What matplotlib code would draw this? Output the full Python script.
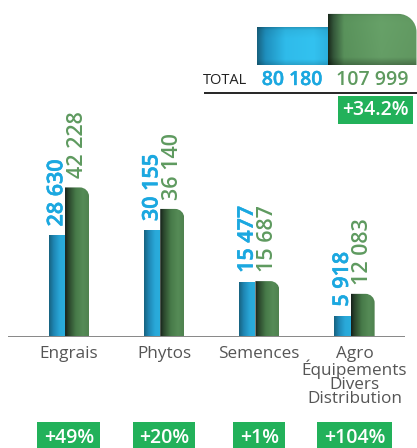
import numpy as np
import matplotlib
matplotlib.use('Agg')
import matplotlib.pyplot as plt
from matplotlib.path import Path
from matplotlib.patches import PathPatch
from matplotlib.colors import to_rgb
from matplotlib.lines import Line2D
import matplotlib.patheffects as pe

# ---------------- data ----------------
categories = ['Engrais', 'Phytos', 'Semences', 'Agro\nÉquipements\nDivers\nDistribution']
values_prev = [28630, 30155, 15477, 5918]
values_curr = [42228, 36140, 15687, 12083]
labels_prev = ['28 630', '30 155', '15 477', '5 918']
labels_curr = ['42 228', '36 140', '15 687', '12 083']
growth = ['+49%', '+20%', '+1%', '+104%']
total_values = [80180, 107999]
total_labels = ['80 180', '107 999']
total_growth = '+34.2%'
total_title = 'TOTAL'

# ---------------- style ----------------
W, H, DPI = 417, 448, 100
PT = 72.0 / DPI  # points per pixel
FONT = 'Open Sans'
BLUE_T = '#1ba8e0'
GREEN_T = '#5e9a5f'
BOX_G = '#22b15a'
GRAY_T = '#555555'

fig = plt.figure(figsize=(W / DPI, H / DPI), dpi=DPI)


def px_axes(left, top, right, bottom):
    return fig.add_axes([left / W, 1 - bottom / H, (right - left) / W, (bottom - top) / H])


def heavy(color, lw=0.7):
    if lw <= 0:
        return []
    return [pe.withStroke(linewidth=lw, foreground=color)]


def grad_img(stops, vert=None, n=200):
    xs = np.linspace(0, 1, n)
    pos = [p for p, _ in stops]
    cols = np.array([to_rgb(c) for _, c in stops])
    row = np.stack([np.interp(xs, pos, cols[:, k]) for k in range(3)], axis=-1)
    if vert is None:
        img = row[None, :, :]
    else:
        vp, vf = vert
        ys = np.linspace(0, 1, n)
        fac = np.interp(ys, vp, vf)
        img = row[None, :, :] * fac[:, None, None]
    return np.clip(img, 0, 1)


def shade_bar(ax, patch, img, r_px, ax_px_w, ax_px_h):
    x0, w, h = patch.get_x(), patch.get_width(), patch.get_height()
    x1 = x0 + w
    xl, yl = ax.get_xlim(), ax.get_ylim()
    rx = r_px * (xl[1] - xl[0]) / ax_px_w
    ry = r_px * (yl[1] - yl[0]) / ax_px_h
    k = 0.5523
    if r_px > 0:
        verts = [(x0, 0), (x0, h), (x1 - rx, h),
                 (x1 - rx + k * rx, h), (x1, h - ry + k * ry), (x1, h - ry),
                 (x1, 0), (x0, 0)]
        codes = [Path.MOVETO, Path.LINETO, Path.LINETO,
                 Path.CURVE4, Path.CURVE4, Path.CURVE4,
                 Path.LINETO, Path.CLOSEPOLY]
    else:
        verts = [(x0, 0), (x0, h), (x1, h), (x1, 0), (x0, 0)]
        codes = [Path.MOVETO, Path.LINETO, Path.LINETO, Path.LINETO, Path.CLOSEPOLY]
    pp = PathPatch(Path(verts, codes), facecolor='none', edgecolor='none')
    ax.add_patch(pp)
    im = ax.imshow(img, extent=[x0, x1, 0, h], aspect='auto', origin='upper',
                   interpolation='bilinear', zorder=2)
    im.set_clip_path(pp)
    patch.set_visible(False)
    ax.set_xlim(xl)
    ax.set_ylim(yl)


BLUE_STOPS = [(0, '#17627f'), (0.3, '#1f88b6'), (0.65, '#29a8d8'), (1.0, '#2aaedd')]
GREEN_STOPS = [(0, '#15201a'), (0.15, '#2a452c'), (0.45, '#477a49'), (0.75, '#558b56'), (1.0, '#4f824f')]
TBLUE_STOPS = [(0, '#17627f'), (0.12, '#1f8fbd'), (0.4, '#2fbbea'), (0.8, '#33c2f0'), (1.0, '#2cb1df')]
TGREEN_STOPS = [(0, '#1a2a1c'), (0.06, '#34573a'), (0.18, '#5a935c'), (0.6, '#67a168'), (1.0, '#629a62')]

# ---------------- main chart ----------------
ML, MT, MR, MB = 8, 110, 405, 336.5
ax = px_axes(ML, MT, MR, MB)
ax_w, ax_h = MR - ML, MB - MT
px_per_unit = 0.00353
ax.set_xlim(-0.599, 3.571)
ax.set_ylim(0, ax_h / px_per_unit)
for s in ax.spines.values():
    s.set_visible(False)
ax.set_xticks([])
ax.set_yticks([])
ax.patch.set_alpha(0)

x = np.arange(len(categories))
bw, gw = 0.173, 0.252
bars_b = ax.bar(x - bw, values_prev, width=bw, align='edge', color='#2aaedd')
bars_g = ax.bar(x, values_curr, width=gw, align='edge', color='#4f824f')
for p in bars_b:
    shade_bar(ax, p, grad_img(BLUE_STOPS), 0, ax_w, ax_h)
for p in bars_g:
    shade_bar(ax, p, grad_img(GREEN_STOPS), 9, ax_w, ax_h)

ax.axhline(0, color='#8a8a8a', lw=2 * PT, zorder=5)

for xi, v, lbl in zip(x, values_prev, labels_prev):
    ax.annotate(lbl, xy=(xi - bw / 2, v), xytext=(0, 9 * PT), textcoords='offset points',
                rotation=90, ha='center', va='bottom', color=BLUE_T, fontsize=15.5,
                fontweight='semibold', family=FONT, path_effects=heavy(BLUE_T, 0.4))
for xi, v, lbl in zip(x, values_curr, labels_curr):
    ax.annotate(lbl, xy=(xi + gw / 2, v), xytext=(0, 9 * PT), textcoords='offset points',
                rotation=90, ha='center', va='bottom', color=GREEN_T, fontsize=15.5,
                fontweight='semibold', family=FONT)

cx = x + (gw - bw) / 2
for xi, c in zip(cx, categories):
    ax.annotate(c, xy=(xi, 0), xytext=(0, -10 * PT), textcoords='offset points',
                ha='center', va='top', color=GRAY_T, fontsize=12.3, family=FONT,
                linespacing=0.83, annotation_clip=False)
for xi, g in zip(cx, growth):
    ax.annotate(g, xy=(xi, 0), xytext=(0, -(438 - MB) * PT), textcoords='offset points',
                ha='center', va='center', color='white', fontsize=14, fontweight='semibold',
                family=FONT, annotation_clip=False,
                bbox=dict(boxstyle='square,pad=0.33', fc=BOX_G, ec='none'))

# ---------------- total ----------------
TL, TT, TR, TB = 257, 10, 417, 65
ax2 = px_axes(TL, TT, TR, TB)
t_w, t_h = TR - TL, TB - TT
ax2.set_xlim(0, t_w)
ax2.set_ylim(0, t_h / 0.000473)
for s in ax2.spines.values():
    s.set_visible(False)
ax2.set_xticks([])
ax2.set_yticks([])
ax2.patch.set_alpha(0)
tb = ax2.bar([0, 71], total_values, width=[71, 88.5], align='edge', color=['#2fbbea', '#64a066'])
VERT_B = ([0, 0.08, 0.3, 0.85, 1.0], [0.8, 0.95, 1.0, 1.0, 0.85])
VERT_G = ([0, 0.06, 0.2, 0.85, 1.0], [0.88, 0.98, 1.0, 0.98, 0.72])
shade_bar(ax2, tb[0], grad_img(TBLUE_STOPS, VERT_B), 0, t_w, t_h)
shade_bar(ax2, tb[1], grad_img(TGREEN_STOPS, VERT_G), 18, t_w, t_h)

for p, lbl, col, lw in zip(tb, total_labels, [BLUE_T, GREEN_T], [0.3, 0]):
    ax2.annotate(lbl, xy=(p.get_x() + p.get_width() / 2, 0), xytext=(0, -(80 - TB) * PT),
                 textcoords='offset points', ha='center', va='center', color=col,
                 fontsize=14, fontweight='semibold', family=FONT, annotation_clip=False,
                 path_effects=heavy(col, lw))
ax2.annotate(total_title, xy=(0, 0), xytext=(-10 * PT, -(80 - TB) * PT),
             textcoords='offset points', ha='right', va='center', color='#222222',
             fontsize=10.5, family=FONT, annotation_clip=False)
ax2.annotate(total_growth, xy=(tb[1].get_x() + tb[1].get_width() / 2 + 3, 0),
             xytext=(0, -(110 - TB) * PT), textcoords='offset points', ha='center',
             va='center', color='white', fontsize=14, fontweight='semibold', family=FONT,
             annotation_clip=False,
             bbox=dict(boxstyle='square,pad=0.22', fc=BOX_G, ec='none'))

fig.add_artist(Line2D([205 / W, 1.0], [1 - 93 / H, 1 - 93 / H], transform=fig.transFigure,
                      color='#2a2a2a', lw=2 * PT))

fig.savefig('out.png', dpi=DPI)
